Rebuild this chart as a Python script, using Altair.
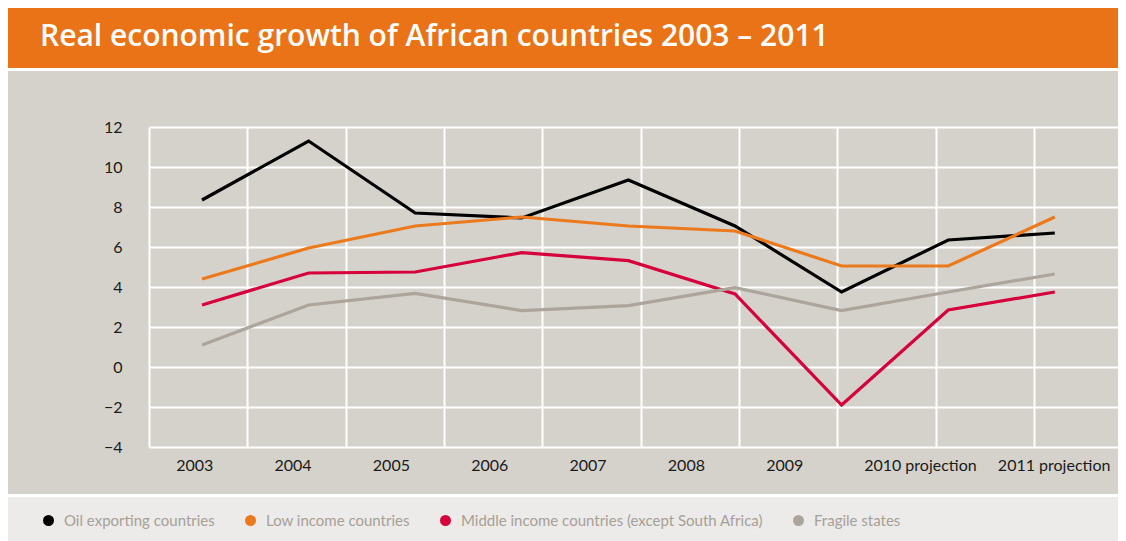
import altair as alt
import pandas as pd

# ---- data ----
years = ["2003", "2004", "2005", "2006", "2007", "2008", "2009",
         "2010 projection", "2011 projection"]
series_names = ["Oil exporting countries", "Low income countries",
                "Middle income countries (except South Africa)", "Fragile states"]
oil = [8.35, 11.3, 7.7, 7.45, 9.35, 7.05, 3.75, 6.35, 6.7]
low_income = [4.4, 5.95, 7.05, 7.5, 7.05, 6.8, 5.05, 5.05, 7.5]
middle_income = [3.1, 4.7, 4.75, 5.72, 5.32, 3.65, -1.9, 2.85, 3.75]
fragile = [1.1, 3.1, 3.68, 2.82, 3.07, 3.97, 2.82, 3.75, 4.65]
series_colors = ["#000000", "#EC7A1C", "#D6003D", "#ABA59C"]
y_ticks = [-4, -2, 0, 2, 4, 6, 8, 10, 12]

rows = []
for name, vals in zip(series_names, [oil, low_income, middle_income, fragile]):
    for i, (yr, v) in enumerate(zip(years, vals)):
        rows.append({"idx": i, "year": yr, "series": name, "value": v})
df = pd.DataFrame(rows)
ydf = pd.DataFrame({"idx": list(range(len(years))), "year": years})

# ---- layout / style constants ----
W, H = 969, 320
FONT = "Lato"
ORANGE = "#EA7317"
GREY_BG = "#D5D2CB"
LEGEND_BG = "#ECEBE9"
COL = 98.33     # grid column width in px
STEP = 106.6    # spacing of the data points in px
X0 = 53         # offset of first data point from the plot's left edge

# legend dot drawn as concentric stroked circles so it reads as a filled disc
DOT = " ".join(
    "M %s 0 A %s %s 0 1 0 %s 0 A %s %s 0 1 0 %s 0" % (-r, r, r, r, r, r, -r)
    for r in [1, 0.8, 0.6, 0.4, 0.2, 0.05])

# axis label positions, in grid-column units
label_pos = [0.46, 1.46, 2.46, 3.46, 4.46, 5.46, 6.46, 7.84, 9.20]
grid_domain = [0, W / COL]
data_domain = [-X0 / STEP, (W - X0) / STEP]
label_expr = "[" + ",".join("'%s'" % y for y in years) + "][indexof([" + \
    ",".join(str(p) for p in label_pos) + "], datum.value)]"

one = alt.Data(values=[{"a": 1}])

orange_bar = alt.Chart(one).mark_rect(color=ORANGE).encode(
    x=alt.value(-141), x2=alt.value(W), y=alt.value(-119), y2=alt.value(-59))
white_top = alt.Chart(one).mark_rect(color="white").encode(
    x=alt.value(-141), x2=alt.value(W), y=alt.value(-59), y2=alt.value(-56))
white_bot = alt.Chart(one).mark_rect(color="white").encode(
    x=alt.value(-141), x2=alt.value(W), y=alt.value(367), y2=alt.value(370))
legend_bar = alt.Chart(one).mark_rect(color=LEGEND_BG).encode(
    x=alt.value(-141), x2=alt.value(W), y=alt.value(370), y2=alt.value(420))
title = alt.Chart(one).mark_text(
    text="Real economic growth of African countries 2003 – 2011",
    font="Open Sans", fontSize=30, fontWeight=600, color="white",
    align="left", baseline="alphabetic").encode(
    x=alt.value(-109), y=alt.value(-81))

grid_layer = alt.Chart(ydf).mark_point(opacity=0).encode(
    x=alt.X("idx:Q", scale=alt.Scale(domain=grid_domain, nice=False, zero=False),
            axis=alt.Axis(values=list(range(10)), grid=True, gridColor="white",
                          gridWidth=2, labels=False, ticks=False, domain=False,
                          title=None, orient="bottom")))

label_layer = alt.Chart(ydf).mark_point(opacity=0).encode(
    x=alt.X("idx:Q", scale=alt.Scale(domain=grid_domain, nice=False, zero=False),
            axis=alt.Axis(values=label_pos, labelExpr=label_expr, grid=False,
                          ticks=False, domain=False, title=None, orient="bottom",
                          labelFont=FONT, labelFontSize=16, labelColor="#1a1a1a",
                          labelPadding=10, labelOverlap=False, labelFlush=False)))

lines = alt.Chart(df).mark_line(strokeWidth=3.2, strokeJoin="miter").encode(
    x=alt.X("idx:Q", scale=alt.Scale(domain=data_domain, nice=False, zero=False),
            axis=None),
    y=alt.Y("value:Q", scale=alt.Scale(domain=[-4, 12], nice=False),
            axis=alt.Axis(values=y_ticks, grid=True, gridColor="white", gridWidth=2,
                          domain=False, ticks=False, title=None, labelFont=FONT,
                          labelFontSize=16, labelColor="#1a1a1a", labelPadding=27)),
    color=alt.Color("series:N",
                    scale=alt.Scale(domain=series_names, range=series_colors),
                    legend=alt.Legend(
                        orient="none", legendX=-108, legendY=386, zindex=2,
                        direction="horizontal", columns=4, title=None,
                        padding=0, symbolType=DOT, symbolSize=81,
                        symbolStrokeWidth=2,
                        labelFont=FONT, labelFontSize=15, labelColor="#A6A098",
                        labelLimit=0, labelOffset=8, columnPadding=27)),
    order="idx:Q")

chart = alt.layer(orange_bar, white_top, white_bot, legend_bar, title,
                  grid_layer, label_layer, lines).resolve_scale(
    x="independent").properties(
    width=W, height=H,
    padding={"left": 141, "top": 119, "right": 0, "bottom": 94},
    autosize=alt.AutoSizeParams(type="none"),
    background=GREY_BG).configure_view(stroke=None)

chart.save("out.html", embed_options={"renderer": "svg", "actions": False})
